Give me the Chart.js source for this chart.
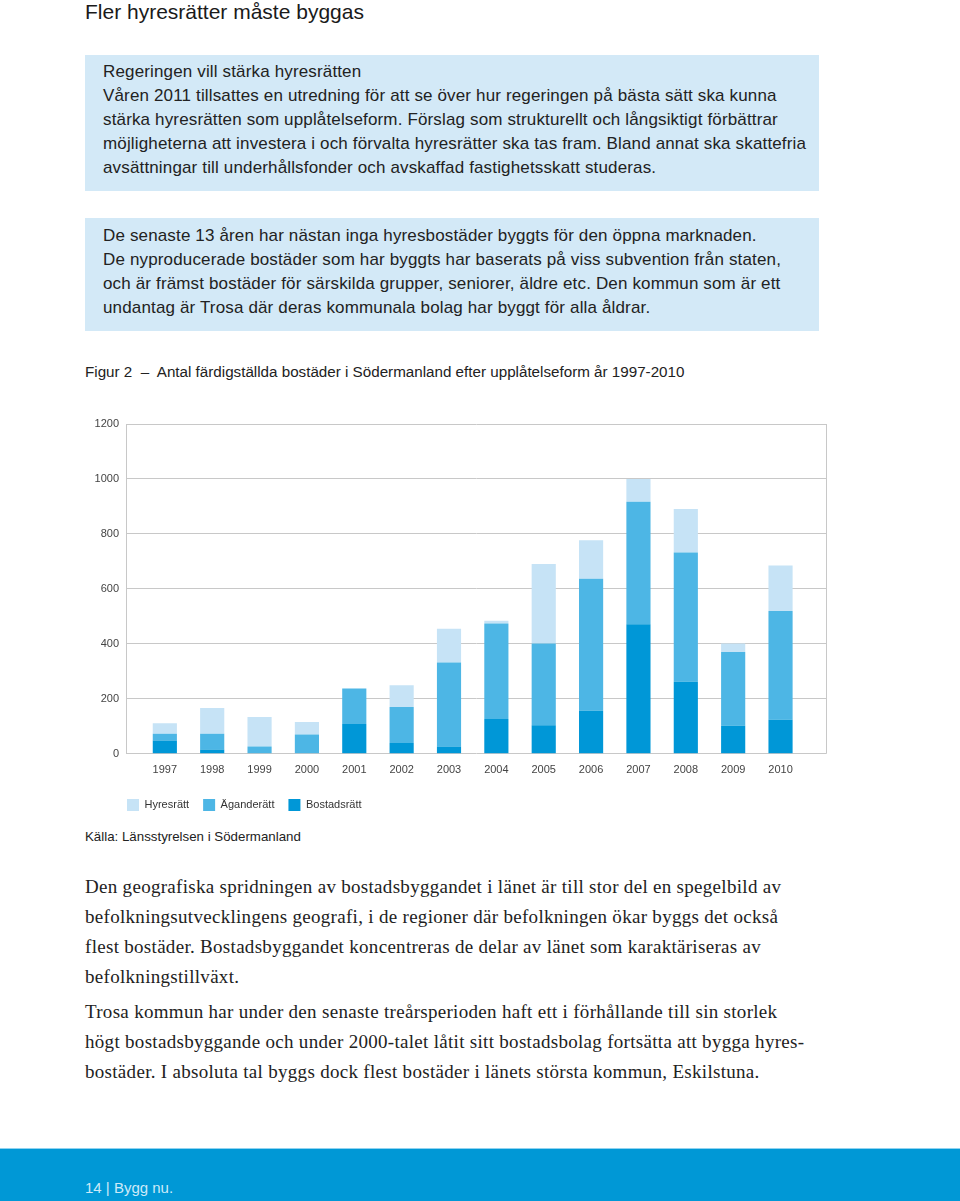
<!DOCTYPE html>
<html lang="sv">
<head>
<meta charset="utf-8">
<title>Fler hyresrätter måste byggas</title>
<script src="https://cdn.jsdelivr.net/npm/chart.js@4.4.1/dist/chart.umd.min.js"></script>
<style>
  body { margin: 0; width: 960px; height: 1201px; position: relative; background: #fff;
         font-family: "Liberation Sans", Arial, sans-serif; color: #222; overflow: hidden; }
  .abs { position: absolute; }
  h1 { position: absolute; left: 85px; top: 0; margin: 0; font-size: 21px; line-height: 24px;
       font-weight: normal; color: #1a1a1a; }
  .box { position: absolute; left: 85px; width: 734px; background: #d3e9f7; box-sizing: border-box;
         padding-left: 18px; font-size: 17px; letter-spacing: 0.15px; line-height: 24px; color: #222; }
  #box1 { top: 55px; height: 136px; padding-top: 5px; }
  #box2 { top: 218px; height: 113px; padding-top: 6px; }
  #caption { left: 85px; top: 363px; font-size: 15.2px; line-height: 18px; color: #222; }
  #chartWrap { left: 0; top: 400px; width: 960px; height: 421px; }
  #source { left: 85px; top: 828px; font-size: 13.3px; line-height: 18px; color: #222; }
  .body { position: absolute; left: 85px; margin: 0; font-family: "Liberation Serif", "DejaVu Serif", serif;
          font-size: 19px; letter-spacing: 0.3px; line-height: 30px; color: #222; white-space: nowrap; }
  #p1 { top: 872px; }
  #p2 { top: 997px; }
  #footer { left: 0; top: 1148px; width: 960px; height: 53px; background: #0098d6;
            border-top: 1px solid #8fd3f0; box-sizing: border-box; }
  #footer span { position: absolute; left: 85px; top: 30px; font-size: 15px; line-height: 18px; color: #cdeaf8; }
</style>
</head>
<body>
<h1>Fler hyresrätter måste byggas</h1>
<div class="box" id="box1">Regeringen vill stärka hyresrätten<br>Våren 2011 tillsattes en utredning för att se över hur regeringen på bästa sätt ska kunna<br>stärka hyresrätten som upplåtelseform. Förslag som strukturellt och långsiktigt förbättrar<br>möjligheterna att investera i och förvalta hyresrätter ska tas fram. Bland annat ska skattefria<br>avsättningar till underhållsfonder och avskaffad fastighetsskatt studeras.</div>
<div class="box" id="box2">De senaste 13 åren har nästan inga hyresbostäder byggts för den öppna marknaden.<br>De nyproducerade bostäder som har byggts har baserats på viss subvention från staten,<br>och är främst bostäder för särskilda grupper, seniorer, äldre etc. Den kommun som är ett<br>undantag är Trosa där deras kommunala bolag har byggt för alla åldrar.</div>
<div class="abs" id="caption">Figur 2 &nbsp;–&nbsp; Antal färdigställda bostäder i Södermanland efter upplåtelseform år 1997-2010</div>
<div class="abs" id="chartWrap"><canvas id="myChart" width="960" height="421"></canvas></div>
<div class="abs" id="source">Källa: Länsstyrelsen i Södermanland</div>
<p class="body" id="p1">Den geografiska spridningen av bostadsbyggandet i länet är till stor del en spegelbild av<br>befolkningsutvecklingens geografi, i de regioner där befolkningen ökar byggs det också<br>flest bostäder. Bostadsbyggandet koncentreras de delar av länet som karaktäriseras av<br>befolkningstillväxt.</p>
<p class="body" id="p2">Trosa kommun har under den senaste treårsperioden haft ett i förhållande till sin storlek<br>högt bostadsbyggande och under 2000-talet låtit sitt bostadsbolag fortsätta att bygga hyres-<br>bostäder. I absoluta tal byggs dock flest bostäder i länets största kommun, Eskilstuna.</p>
<div class="abs" id="footer"><span>14 | Bygg nu.</span></div>
<script>
var years = [1997, 1998, 1999, 2000, 2001, 2002, 2003, 2004, 2005, 2006, 2007, 2008, 2009, 2010];
var bostadsratt = [48, 16, 0, 0, 108, 39, 27, 127, 104, 157, 471, 262, 102, 124];
var aganderatt = [25, 57, 27, 70, 130, 131, 305, 347, 297, 480, 446, 470, 268, 396];
var hyresratt = [38, 94, 107, 46, 0, 79, 123, 10, 290, 140, 83, 159, 31, 165];

function points(values) {
    return years.map(function (y, i) { return { x: y, y: values[i] }; });
}

// right-hand edge of the plot frame
var frame = {
    id: 'frame',
    afterLayout: function (chart) {
        // line the legend up with the left edge of the plot
        var l = chart.legend;
        var d = chart.chartArea.left + 1 - l.options.labels.padding - l.left;
        l.left += d;
        l.right += d;
    },
    beforeDatasetsDraw: function (chart) {
        var a = chart.chartArea, c = chart.ctx;
        c.save();
        c.strokeStyle = '#c8c8c8';
        c.lineWidth = 1;
        c.beginPath();
        c.moveTo(Math.round(a.right) + 0.5, a.top);
        c.lineTo(Math.round(a.right) + 0.5, a.bottom);
        c.stroke();
        c.restore();
    }
};

var ctx = document.getElementById('myChart').getContext('2d');
var myChart = new Chart(ctx, {
    type: 'bar',
    data: {
        datasets: [{
            label: 'Bostadsrätt',
            data: points(bostadsratt),
            backgroundColor: '#0097d7'
        }, {
            label: 'Äganderätt',
            data: points(aganderatt),
            backgroundColor: '#4db6e5'
        }, {
            label: 'Hyresrätt',
            data: points(hyresratt),
            backgroundColor: '#c6e3f6'
        }]
    },
    options: {
        responsive: false,
        animation: false,
        barPercentage: 0.51,
        categoryPercentage: 1,
        layout: {
            padding: { left: 90, right: 134, top: 24, bottom: 0 }
        },
        scales: {
            x: {
                type: 'linear',
                stacked: true,
                offset: false,
                min: 1996.18,
                max: 2010.96,
                grid: { display: false },
                border: { display: false },
                ticks: {
                    padding: 2,
                    color: '#444',
                    font: { family: 'Liberation Sans', size: 11 },
                    callback: function (v) { return String(v); }
                },
                afterBuildTicks: function (s) {
                    s.ticks = years.map(function (v) { return { value: v }; });
                },
                afterFit: function (s) { s.height += 6; }
            },
            y: {
                stacked: true,
                min: 0,
                max: 1200,
                grid: { color: '#c8c8c8', drawTicks: false },
                border: { color: '#c8c8c8' },
                ticks: {
                    stepSize: 200,
                    padding: 7,
                    color: '#444',
                    font: { family: 'Liberation Sans', size: 11 },
                    callback: function (v) { return String(v); }
                },
                afterFit: function (s) { s.width = 36; }
            }
        },
        plugins: {
            legend: {
                position: 'bottom',
                align: 'start',
                reverse: true,
                labels: {
                    boxWidth: 12,
                    boxHeight: 12,
                    padding: 14,
                    color: '#333',
                    font: { family: 'Liberation Sans', size: 11 }
                }
            },
            tooltip: { enabled: false }
        }
    },
    plugins: [frame]
});
</script>
</body>
</html>
